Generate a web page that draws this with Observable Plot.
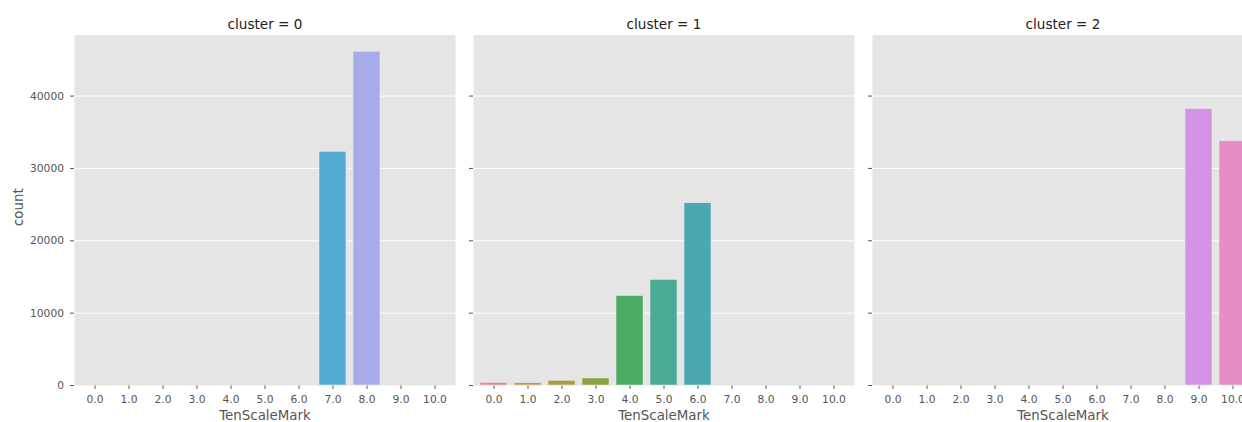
<!DOCTYPE html>
<html>
<head>
<meta charset="utf-8">
<script src="https://cdn.jsdelivr.net/npm/d3@7"></script>
<script src="https://cdn.jsdelivr.net/npm/@observablehq/plot@0.6"></script>
<style>
  html, body { margin: 0; padding: 0; background: #ffffff; overflow: hidden; width: 1242px; height: 422px; }
  #root { position: relative; width: 1242px; height: 422px; overflow: hidden; }
  .facet { position: absolute; top: 0; }
  .facet svg { display: block; max-width: none; }
</style>
</head>
<body>
<div id="root"></div>
<script>
// ---- data ----
const marks = ["0.0", "1.0", "2.0", "3.0", "4.0", "5.0", "6.0", "7.0", "8.0", "9.0", "10.0"];
const clusters = [0, 1, 2];
const count0 = [0, 0, 0, 0, 0, 0, 0, 32300, 46130, 0, 0];
const count1 = [350, 320, 650, 970, 12370, 14590, 25190, 0, 0, 0, 0];
const count2 = [0, 0, 0, 0, 0, 0, 0, 0, 0, 38200, 33750];
const yTicks = [0, 10000, 20000, 30000, 40000];
const xLabel = "TenScaleMark";
const yLabel = "count";

// ---- style ----
const palette = ["#e68395", "#d0904c", "#a99a48", "#8aa443", "#4bad63", "#49aa96",
                 "#4ca8b0", "#54acd2", "#a8abe9", "#d693e6", "#e68dc6"];

const countsByCluster = [count0, count1, count2];
const lefts = [0, 455, 854];

const root = document.getElementById("root");

clusters.forEach((c, i) => {
  const counts = countsByCluster[i];
  const data = marks.map((m, j) => ({mark: m, count: counts[j]}));
  const first = i === 0;
  const ml = first ? 74 : 18;
  const svg = Plot.plot({
    width: ml + 381,
    height: 422,
    marginLeft: ml,
    marginRight: 0,
    marginTop: 34.5,
    marginBottom: 37,
    style: {
      background: "transparent",
      fontFamily: "'DejaVu Sans', sans-serif",
      fontSize: "10.7px",
      color: "#555555",
      maxWidth: "none",
      overflow: "visible"
    },
    x: {
      type: "band",
      domain: marks,
      paddingInner: 0.2,
      paddingOuter: 0.1,
      tickSize: 4,
      tickPadding: 6,
      label: null
    },
    y: {
      domain: [0, 48440],
      ticks: yTicks,
      tickSize: 4,
      tickPadding: 6.5,
      tickFormat: first ? (d => String(d)) : (() => ""),
      label: null
    },
    color: {domain: marks, range: palette},
    marks: [
      Plot.frame({fill: "#e5e5e5", stroke: "none"}),
      Plot.ruleY(yTicks.filter(t => t > 0), {stroke: "#ffffff", strokeWidth: 1}),
      Plot.barY(data.filter(d => d.count > 0), {
        x: "mark", y: "count", fill: "mark",
        stroke: "#eeeeee", strokeWidth: 0.5
      }),
      Plot.text([`cluster = ${c}`], {
        text: d => d, frameAnchor: "top", dy: -10.75,
        fontSize: 13.6, fill: "#222222", lineAnchor: "middle", textAnchor: "middle"
      }),
      Plot.text([xLabel], {
        text: d => d, frameAnchor: "bottom", dy: 30.5,
        fontSize: 13.4, fill: "#555555", lineAnchor: "middle", textAnchor: "middle"
      }),
      first ? Plot.text([yLabel], {
        text: d => d, frameAnchor: "left", dx: -55.6, dy: -3, rotate: -90,
        fontSize: 13.4, fill: "#555555", lineAnchor: "middle", textAnchor: "middle"
      }) : null
    ]
  });
  // enlarge axis tick labels (not the text marks)
  svg.querySelectorAll("text").forEach(t => {
    const g = t.closest("g[aria-label]");
    const lab = g ? g.getAttribute("aria-label") : "";
    if (lab !== "text") {
      t.setAttribute("font-size", "10.7");
      t.style.fontSize = "10.7px";
    }
  });
  const div = document.createElement("div");
  div.className = "facet";
  div.style.left = lefts[i] + "px";
  div.style.width = (ml + 381) + "px";
  div.appendChild(svg);
  root.appendChild(div);
});
</script>
</body>
</html>
